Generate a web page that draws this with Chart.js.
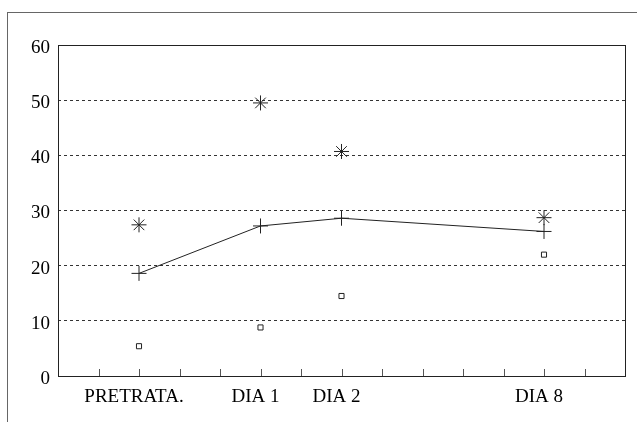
<!DOCTYPE html>
<html>
<head>
<meta charset="utf-8">
<script src="https://cdn.jsdelivr.net/npm/chart.js@4"></script>
<style>
  html, body { margin: 0; padding: 0; background: #fff; overflow: hidden; }
  #frame { position: absolute; left: 7px; top: 12px; width: 700px; height: 500px; border: 1px solid #666; }
  #chart { position: absolute; left: 0; top: 0; }
</style>
</head>
<body>
<div id="frame"></div>
<canvas id="chart" width="637" height="422"></canvas>
<script>
// ---- Data ----
const categories = ["PRETRATA.", "DIA 1", "DIA 2", "DIA 8"];
const categoryPos = [2, 5, 7, 12];          // position on the 0..14 day axis
const meanValues = [18.6, 27.2, 28.6, 26.2]; // + joined by line
const maxValues = [27.4, 49.5, 40.7, 28.7];  // asterisks
const minValues = [5.4, 8.8, 14.5, 22.0];    // small squares
const yTicks = [0, 10, 20, 30, 40, 50, 60];

const toPoints = (vals) => vals.map((v, i) => ({ x: categoryPos[i], y: v }));
const font = { family: "'Liberation Serif', 'DejaVu Serif', serif", size: 19 };

// ---- Plot frame + inner x tick marks ----
const frameAndTicks = {
  id: "frameAndTicks",
  afterDraw(chart) {
    const { ctx, chartArea: a, scales } = chart;
    ctx.save();
    ctx.strokeStyle = "#222";
    ctx.lineWidth = 1;
    ctx.strokeRect(a.left + 0.5, a.top + 0.5, a.right - a.left, a.bottom - a.top);
    ctx.strokeStyle = "#555";
    ctx.beginPath();
    scales.x.ticks.forEach((t) => {
      if (t.value <= 0 || t.value >= 14) return;
      const x = Math.round(scales.x.getPixelForValue(t.value)) + 0.5;
      ctx.moveTo(x, a.bottom);
      ctx.lineTo(x, a.bottom - 7);
    });
    ctx.stroke();
    ctx.restore();
  },
};

new Chart(document.getElementById("chart"), {
  type: "scatter",
  data: {
    datasets: [
      {
        data: toPoints(meanValues),
        showLine: true,
        borderColor: "#222",
        borderWidth: 1,
        pointStyle: "cross",
        pointRadius: 7.5,
        pointBorderColor: "#222",
        pointBorderWidth: 1,
      },
      {
        data: toPoints(maxValues),
        showLine: false,
        pointStyle: "star",
        pointRadius: 7.5,
        pointBorderColor: "#222",
        pointBorderWidth: 1,
      },
      {
        data: toPoints(minValues),
        showLine: false,
        pointStyle: "rect",
        pointRadius: 3.6,
        pointBackgroundColor: "#fff",
        pointBorderColor: "#222",
        pointBorderWidth: 1,
      },
    ],
  },
  options: {
    responsive: false,
    animation: false,
    devicePixelRatio: 1,
    layout: { padding: { top: 45, right: 12, left: 0, bottom: 0 } },
    plugins: { legend: { display: false }, tooltip: { enabled: false } },
    scales: {
      x: {
        type: "linear",
        min: 0,
        max: 14,
        afterFit: (s) => { s.height = 46; },
        grid: { display: false, drawTicks: false },
        border: { display: false },
        ticks: {
          stepSize: 1,
          autoSkip: false,
          maxRotation: 0,
          padding: 10,
          labelOffset: -5,
          color: "#000",
          font: font,
          callback: (v) => {
            const i = categoryPos.indexOf(v);
            return i >= 0 ? categories[i] : "";
          },
        },
      },
      y: {
        min: 0,
        max: 60,
        afterFit: (s) => { s.width = 58; },
        afterBuildTicks: (s) => { s.ticks = yTicks.map((v) => ({ value: v })); },
        grid: {
          drawTicks: false,
          lineWidth: 1,
          color: (c) => (c.tick && (c.tick.value === 0 || c.tick.value === 60) ? "rgba(0,0,0,0)" : "#333"),
        },
        border: { display: false, dash: [3, 3] },
        ticks: { padding: 8, labelOffset: 3, color: "#000", font: font },
      },
    },
  },
  plugins: [frameAndTicks],
});
</script>
</body>
</html>
